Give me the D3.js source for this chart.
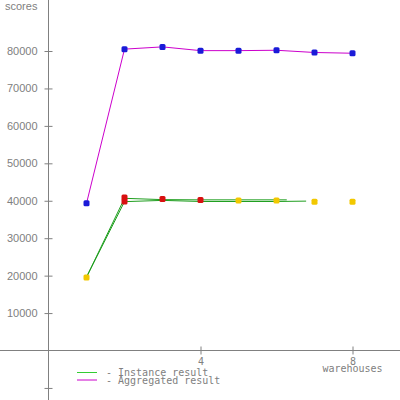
<!DOCTYPE html>
<html>
<head>
<meta charset="utf-8">
<script src="https://cdn.jsdelivr.net/npm/d3@7"></script>
<style>
  body { margin: 0; background: #fff; }
  svg { display: block; }
</style>
</head>
<body>
<div id="chart"></div>
<script>
// aggregated result (one point per warehouse count)
const warehouses = [1, 2, 3, 4, 5, 6, 7, 8]
const aggregated = [39300, 80500, 81100, 80100, 80100, 80200, 79600, 79400]

// instance results, two JVM instances
const inst1X = [1, 2, 3, 4, 5, 6, 6.27]
const inst1Y = [19600, 40650, 40300, 40240, 40240, 40240, 40240]
const inst2X = [1, 2, 3, 4, 5, 6, 6.78]
const inst2Y = [19600, 39760, 40100, 39800, 39800, 39800, 39900]

// instance points and their status colour
const ptX = [1, 2, 2, 3, 4, 5, 6, 7, 8]
const ptY = [19500, 40900, 39800, 40500, 40200, 40100, 40100, 39700, 39700]
const ptStatus = ["ok", "warn", "warn", "warn", "warn", "ok", "ok", "ok", "ok"]

const yTicks = [-10000, 10000, 20000, 30000, 40000, 50000, 60000, 70000, 80000]
const xTicks = [4, 8]

const W = 400, H = 400
const gray = "#808080"

const svg = d3.select("#chart").append("svg")
  .attr("width", W)
  .attr("height", H)

const x = d3.scaleLinear().domain([0, 8]).range([48.5, 352.5])
const y = d3.scaleLinear().domain([0, 80000]).range([350.5, 51])

// axis lines across the whole picture
svg.append("line")
  .attr("x1", 0).attr("x2", W)
  .attr("y1", y(0)).attr("y2", y(0))
  .attr("stroke", gray)
svg.append("line")
  .attr("x1", x(0)).attr("x2", x(0))
  .attr("y1", 0).attr("y2", H)
  .attr("stroke", gray)

// y axis ticks cross the line
const yAxis = svg.append("g")
  .attr("transform", "translate(" + x(0) + ",0)")
  .call(d3.axisLeft(y).tickValues(yTicks).tickSize(4).tickPadding(7)
    .tickFormat(d => d > 0 ? d : ""))
yAxis.select(".domain").remove()
yAxis.selectAll(".tick line").attr("x1", 4).attr("stroke", gray)
yAxis.selectAll(".tick text")
  .attr("fill", gray)
  .style("font-family", "Liberation Sans, sans-serif")
  .style("font-size", "11px")

const xAxis = svg.append("g")
  .attr("transform", "translate(0," + y(0) + ")")
  .call(d3.axisBottom(x).tickValues(xTicks).tickSize(4).tickPadding(3))
xAxis.select(".domain").remove()
xAxis.selectAll(".tick line").attr("y1", -4).attr("stroke", gray)
xAxis.selectAll(".tick text")
  .attr("fill", gray)
  .style("font-family", "DejaVu Sans Mono, monospace")
  .style("font-size", "10px")

svg.append("text")
  .attr("x", x(8)).attr("y", 372)
  .attr("text-anchor", "middle")
  .attr("fill", gray)
  .style("font-family", "DejaVu Sans Mono, monospace")
  .style("font-size", "10px")
  .text("warehouses")

svg.append("text")
  .attr("x", 5).attr("y", 10)
  .attr("fill", gray)
  .style("font-family", "Liberation Sans, sans-serif")
  .style("font-size", "11px")
  .text("scores")

// lines
const line = d3.line().x(d => x(d[0])).y(d => y(d[1]))

svg.append("path")
  .datum(d3.zip(inst1X, inst1Y))
  .attr("d", line)
  .attr("fill", "none")
  .attr("stroke", "#1e9e1e")
svg.append("path")
  .datum(d3.zip(inst2X, inst2Y))
  .attr("d", line)
  .attr("fill", "none")
  .attr("stroke", "#1e9e1e")

svg.append("path")
  .datum(d3.zip(warehouses, aggregated))
  .attr("d", line)
  .attr("fill", "none")
  .attr("stroke", "#cc00cc")

// points
const statusColor = { ok: "#f2c800", warn: "#d81010" }
svg.append("g")
  .selectAll("rect")
  .data(d3.zip(ptX, ptY, ptStatus))
  .enter()
  .append("rect")
    .attr("x", d => x(d[0]) - 3)
    .attr("y", d => y(d[1]) - 3)
    .attr("width", 6)
    .attr("height", 6)
    .attr("rx", 1.5)
    .attr("fill", d => statusColor[d[2]])

svg.append("g")
  .selectAll("rect")
  .data(d3.zip(warehouses, aggregated))
  .enter()
  .append("rect")
    .attr("x", d => x(d[0]) - 3)
    .attr("y", d => y(d[1]) - 3)
    .attr("width", 6)
    .attr("height", 6)
    .attr("rx", 1.5)
    .attr("fill", "#1a1ad8")

// legend
const legend = [
  { label: "- Instance result", color: "#33cc33" },
  { label: "- Aggregated result", color: "#cc00cc" }
]
const lg = svg.append("g")
  .selectAll("g")
  .data(legend)
  .enter()
  .append("g")
  .attr("transform", (d, i) => "translate(0," + (372 + i * 7.5) + ")")
lg.append("line")
  .attr("x1", 77).attr("x2", 97)
  .attr("y1", 0.5).attr("y2", 0.5)
  .attr("stroke", d => d.color)
lg.append("text")
  .attr("x", 106)
  .attr("y", 4)
  .attr("fill", gray)
  .style("font-family", "DejaVu Sans Mono, monospace")
  .style("font-size", "10px")
  .text(d => d.label)
</script>
</body>
</html>
